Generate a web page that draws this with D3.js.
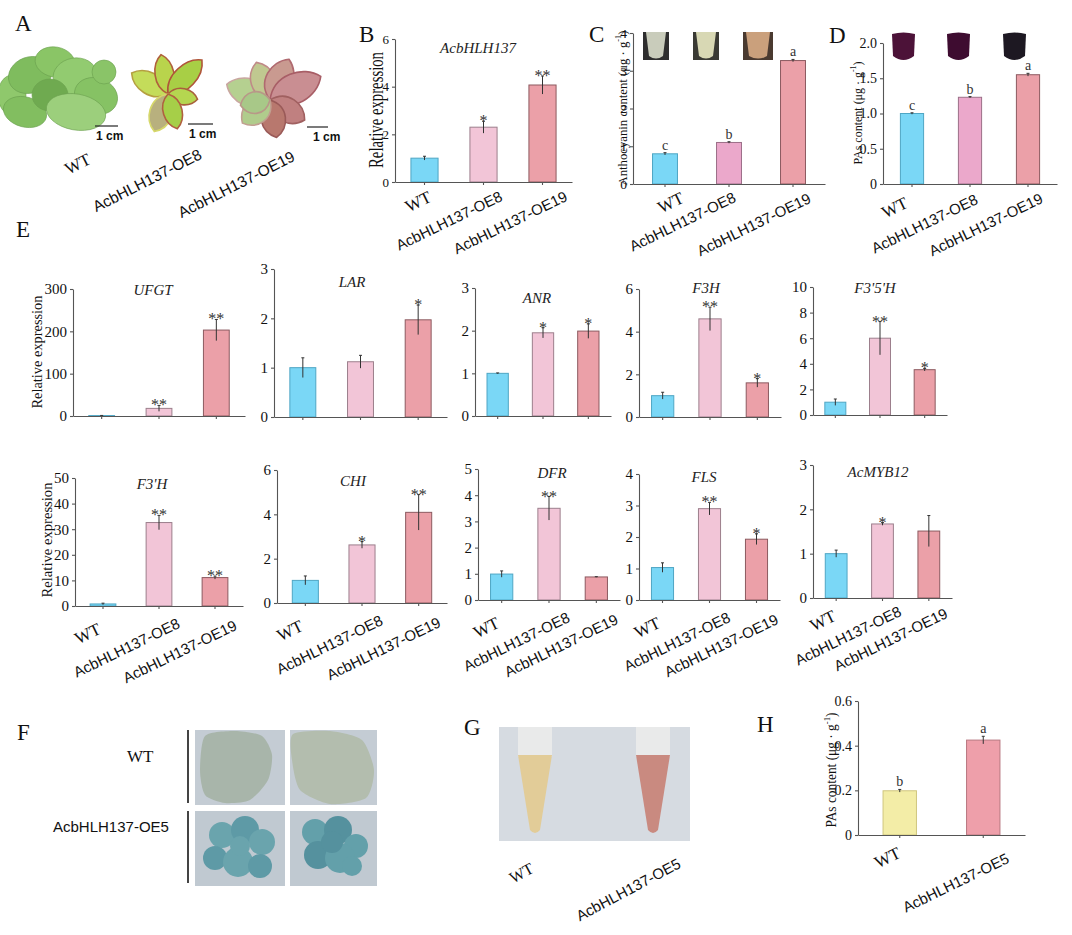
<!DOCTYPE html>
<html>
<head>
<meta charset="utf-8">
<script src="https://cdn.jsdelivr.net/npm/d3@7"></script>
<style>
  body { margin: 0; background: #fff; }
</style>
</head>
<body>
<svg id="fig" width="1072" height="935"></svg>
<script>
// ---------- data ----------
var groups3 = ["WT", "AcbHLH137-OE8", "AcbHLH137-OE19"];
var groups2 = ["WT", "AcbHLH137-OE5"];

// B  AcbHLH137 expression
var bhlh137 = [1.0, 2.3, 4.07], bhlh137Err = [0.08, 0.25, 0.38], bhlh137Sig = ["", "*", "**"], bhlh137Ticks = [0, 2, 4, 6];
// C  anthocyanin content
var antho = [0.8, 1.1, 3.27], anthoErr = [0.03, 0.02, 0.03], anthoSig = ["c", "b", "a"], anthoTicks = [0, 1, 2, 3, 4];
// D  PAs content
var pas = [1.0, 1.23, 1.55], pasErr = [0.01, 0.01, 0.02], pasSig = ["c", "b", "a"], pasTicks = [0, 0.5, 1.0, 1.5, 2.0];
// E  gene expression
var ufgt = [1.0, 18, 203], ufgtErr = [0.3, 7, 25], ufgtSig = ["", "**", "**"], ufgtTicks = [0, 100, 200, 300];
var lar = [1.0, 1.12, 1.97], larErr = [0.2, 0.13, 0.3], larSig = ["", "", "*"], larTicks = [0, 1, 2, 3];
var anr = [1.0, 1.95, 1.99], anrErr = [0.01, 0.12, 0.17], anrSig = ["", "*", "*"], anrTicks = [0, 1, 2, 3];
var f3h = [1.0, 4.6, 1.6], f3hErr = [0.16, 0.55, 0.2], f3hSig = ["", "**", "*"], f3hTicks = [0, 2, 4, 6];
var f35h = [1.0, 6.0, 3.54], f35hErr = [0.25, 1.3, 0.1], f35hSig = ["", "**", "*"], f35hTicks = [0, 2, 4, 6, 8, 10];
var f3ph = [0.8, 32.6, 11.1], f3phErr = [0.3, 2.8, 0.6], f3phSig = ["", "**", "**"], f3phTicks = [0, 10, 20, 30, 40, 50];
var chi = [1.02, 2.62, 4.09], chiErr = [0.2, 0.15, 0.8], chiSig = ["", "*", "**"], chiTicks = [0, 2, 4, 6];
var dfr = [0.99, 3.5, 0.88], dfrErr = [0.12, 0.45, 0.01], dfrSig = ["", "**", ""], dfrTicks = [0, 1, 2, 3, 4, 5];
var fls = [1.03, 2.9, 1.93], flsErr = [0.15, 0.2, 0.17], flsSig = ["", "**", "*"], flsTicks = [0, 1, 2, 3, 4];
var myb12 = [1.0, 1.67, 1.51], myb12Err = [0.08, 0.03, 0.35], myb12Sig = ["", "*", ""], myb12Ticks = [0, 1, 2, 3];
// H  PAs content in callus
var pasCallus = [0.198, 0.425], pasCallusErr = [0.006, 0.017], pasCallusSig = ["b", "a"], pasCallusTicks = [0, 0.2, 0.4, 0.6];

// ---------- styles ----------
var SERIF = "'Liberation Serif','Times New Roman',serif";
var SANS = "'Liberation Sans',Arial,sans-serif";
var fillE = ["#7ad7f6", "#f2c5d7", "#eba0a8"], edgeE = ["#4fa6c4", "#9c7f8c", "#8c5a60"];
var fillCD = ["#7ad7f6", "#eba8cb", "#eba0a8"], edgeCD = ["#4fa6c4", "#9c6f88", "#8c5a60"];
var fillH = ["#f3eda7", "#ee9faa"], edgeH = ["#cfc67e", "#b87880"];
var fmt1 = function(d) { return d === 0 ? "0" : d3.format(".1f")(d); };
var labStd = [[-1, 27], [22, 21], [23, 23]];   // label anchor offsets, bottom row

var svg = d3.select("#fig");

function yLabel(kind, x, y, len, size) {
  var t = svg.append("text")
    .attr("transform", "translate(" + x + "," + y + ") rotate(-90)")
    .attr("text-anchor", "middle").attr("dy", "0.35em")
    .style("font-family", SERIF).style("font-size", size + "px").attr("fill", "#111");
  if (kind == "rel") {
    t.text("Relative expression");
  } else {
    t.append("tspan").text(kind == "antho" ? "Anthocyanin  content (\u03bcg \u00b7 g" : "PAs content (\u03bcg \u00b7 g");
    t.append("tspan").attr("dy", -size * 0.4).style("font-size", (size * 0.65) + "px").text("-1");
    t.append("tspan").attr("dy", size * 0.4).text(")");
  }
  t.attr("textLength", len).attr("lengthAdjust", "spacingAndGlyphs");
}

function barChart(c) {
  var g = svg.append("g");
  var x = d3.scaleBand().domain(c.cats).range([c.x0, c.x1]).paddingInner(c.pad).paddingOuter(c.pad / 2);
  var y = d3.scaleLinear().domain([0, c.ticks[c.ticks.length - 1]]).range([c.y0, c.y1]);
  var cx = function(i) { return x(c.cats[i]) + x.bandwidth() / 2; };

  // bars
  g.selectAll("rect.bar").data(c.vals).enter().append("rect")
    .attr("class", "bar")
    .attr("x", function(d, i) { return x(c.cats[i]); })
    .attr("y", function(d) { return y(d); })
    .attr("width", x.bandwidth())
    .attr("height", function(d) { return y(0) - y(d); })
    .attr("fill", function(d, i) { return c.fill[i]; })
    .attr("stroke", function(d, i) { return c.edge[i]; })
    .attr("stroke-width", 1);

  // error bars
  var eb = g.selectAll("g.err").data(c.vals).enter().append("g").attr("class", "err")
    .attr("stroke", "#333").attr("stroke-width", 1);
  eb.append("line")
    .attr("x1", function(d, i) { return cx(i); }).attr("x2", function(d, i) { return cx(i); })
    .attr("y1", function(d, i) { return y(Math.max(0, d - c.err[i])); })
    .attr("y2", function(d, i) { return y(d + c.err[i]); });
  eb.append("line")
    .attr("x1", function(d, i) { return cx(i) - 1.5; }).attr("x2", function(d, i) { return cx(i) + 1.5; })
    .attr("y1", function(d, i) { return y(d + c.err[i]); })
    .attr("y2", function(d, i) { return y(d + c.err[i]); });

  // significance
  g.selectAll("text.sig").data(c.marks).enter().append("text")
    .attr("class", "sig")
    .attr("x", function(d, i) { return cx(i); })
    .attr("y", function(d, i) {
      var top = y(c.vals[i] + c.err[i]);
      return d.indexOf("*") >= 0 ? top + 5 : top - 3;
    })
    .attr("text-anchor", "middle")
    .style("font-family", SERIF)
    .style("font-size", function(d) { return d.indexOf("*") >= 0 ? "16px" : "14px"; })
    .attr("fill", "#333")
    .text(function(d) { return d; });

  // axes
  var ya = g.append("g").attr("transform", "translate(" + c.x0 + ",0)")
    .call(d3.axisLeft(y).tickValues(c.ticks).tickSizeInner(3).tickSizeOuter(0).tickPadding(3)
      .tickFormat(c.fmt || d3.format("d")));
  g.append("g").attr("transform", "translate(0," + c.y0 + ")")
    .call(d3.axisBottom(x).tickSizeInner(3).tickSizeOuter(0).tickFormat(""));
  g.selectAll(".domain, .tick line").attr("stroke", "#555").attr("stroke-width", 1.1);
  ya.selectAll("text").style("font-family", SERIF).style("font-size", c.tickFont + "px").attr("fill", "#111");

  // title
  if (c.title) {
    g.append("text").attr("x", c.tx).attr("y", c.ty).attr("text-anchor", "middle")
      .style("font-family", SERIF).style("font-style", "italic").style("font-size", "15px")
      .attr("fill", "#222").text(c.title);
  }

  // rotated category labels
  if (c.lab) {
    c.cats.forEach(function(name, i) {
      var wt = name == "WT";
      g.append("text")
        .attr("transform", "translate(" + (cx(i) + c.lab[i][0]) + "," + (c.y0 + c.lab[i][1]) + ") rotate(-26)")
        .attr("text-anchor", "end")
        .style("font-family", wt ? SERIF : SANS)
        .style("font-size", wt ? "17px" : "15px")
        .attr("fill", "#111")
        .text(name);
    });
  }
}

// ---------- charts ----------
var charts = [
  { cats: groups3, vals: bhlh137, err: bhlh137Err, marks: bhlh137Sig, ticks: bhlh137Ticks, fill: fillE, edge: edgeE,
    x0: 395, x1: 572, y0: 182, y1: 39, pad: 0.54, tickFont: 13, title: "AcbHLH137", tx: 478, ty: 53,
    lab: [[8, 19], [20, 18], [26, 18]] },
  { cats: groups3, vals: antho, err: anthoErr, marks: anthoSig, ticks: anthoTicks, fill: fillCD, edge: edgeCD,
    x0: 633, x1: 825, y0: 184, y1: 33, pad: 0.61, tickFont: 13.5,
    lab: [[20, 18], [8, 17], [19, 18]] },
  { cats: groups3, vals: pas, err: pasErr, marks: pasSig, ticks: pasTicks, fill: fillCD, edge: edgeCD, fmt: fmt1,
    x0: 883, x1: 1057, y0: 184, y1: 43, pad: 0.6, tickFont: 14,
    lab: [[-3, 23], [9, 19], [16, 18]] },

  { cats: groups3, vals: ufgt, err: ufgtErr, marks: ufgtSig, ticks: ufgtTicks, fill: fillE, edge: edgeE,
    x0: 73, x1: 245, y0: 416, y1: 289, pad: 0.55, tickFont: 15, title: "UFGT", tx: 153, ty: 295 },
  { cats: groups3, vals: lar, err: larErr, marks: larSig, ticks: larTicks, fill: fillE, edge: edgeE,
    x0: 274, x1: 447, y0: 417, y1: 269, pad: 0.55, tickFont: 15, title: "LAR", tx: 352, ty: 287 },
  { cats: groups3, vals: anr, err: anrErr, marks: anrSig, ticks: anrTicks, fill: fillE, edge: edgeE,
    x0: 475, x1: 611, y0: 416, y1: 288, pad: 0.53, tickFont: 15, title: "ANR", tx: 537, ty: 303 },
  { cats: groups3, vals: f3h, err: f3hErr, marks: f3hSig, ticks: f3hTicks, fill: fillE, edge: edgeE,
    x0: 639, x1: 781, y0: 417, y1: 289, pad: 0.53, tickFont: 15, title: "F3H", tx: 706, ty: 293 },
  { cats: groups3, vals: f35h, err: f35hErr, marks: f35hSig, ticks: f35hTicks, fill: fillE, edge: edgeE,
    x0: 813, x1: 947, y0: 415, y1: 287, pad: 0.53, tickFont: 15, title: "F3'5'H", tx: 875, ty: 293 },

  { cats: groups3, vals: f3ph, err: f3phErr, marks: f3phSig, ticks: f3phTicks, fill: fillE, edge: edgeE,
    x0: 75, x1: 243, y0: 606, y1: 478, pad: 0.54, tickFont: 15, title: "F3'H", tx: 152, ty: 489, lab: labStd },
  { cats: groups3, vals: chi, err: chiErr, marks: chiSig, ticks: chiTicks, fill: fillE, edge: edgeE,
    x0: 277, x1: 447, y0: 603, y1: 470, pad: 0.54, tickFont: 15, title: "CHI", tx: 353, ty: 486, lab: labStd },
  { cats: groups3, vals: dfr, err: dfrErr, marks: dfrSig, ticks: dfrTicks, fill: fillE, edge: edgeE,
    x0: 478, x1: 620, y0: 600, y1: 469, pad: 0.53, tickFont: 15, title: "DFR", tx: 552, ty: 478, lab: labStd },
  { cats: groups3, vals: fls, err: flsErr, marks: flsSig, ticks: flsTicks, fill: fillE, edge: edgeE,
    x0: 639, x1: 780, y0: 600, y1: 474, pad: 0.53, tickFont: 15, title: "FLS", tx: 704, ty: 482, lab: labStd },
  { cats: groups3, vals: myb12, err: myb12Err, marks: myb12Sig, ticks: myb12Ticks, fill: fillE, edge: edgeE,
    x0: 813, x1: 952, y0: 598, y1: 465, pad: 0.53, tickFont: 15, title: "AcMYB12", tx: 878, ty: 477,
    lab: [[1, 22], [20, 17], [20, 19]] },

  { cats: groups2, vals: pasCallus, err: pasCallusErr, marks: pasCallusSig, ticks: pasCallusTicks, fill: fillH, edge: edgeH,
    fmt: fmt1, x0: 858, x1: 1025, y0: 835, y1: 701, pad: 0.6, tickFont: 14,
    lab: [[2, 22], [27, 27]] }
];
charts.forEach(barChart);

yLabel("rel", 376, 110, 116, 20);
yLabel("antho", 622, 108, 155, 13.5);
yLabel("pas", 857, 113, 103, 13);
yLabel("rel", 37, 352, 113, 14.5);
yLabel("rel", 47, 540, 115, 15);
yLabel("pas", 831, 770, 115, 14);

// ---------- panel letters ----------
[["A", 15, 31], ["B", 359, 42], ["C", 589, 42], ["D", 829, 43], ["E", 16, 237],
 ["F", 17, 740], ["G", 464, 735], ["H", 757, 732]].forEach(function(p) {
  svg.append("text").attr("x", p[1]).attr("y", p[2])
    .style("font-family", SERIF).style("font-size", "23px").attr("fill", "#111").text(p[0]);
});

// ---------- photo sketches ----------
function leaf(g, cx, cy, len, w, ang, fill, edge) {
  g.append("path")
    .attr("d", "M0,0 C" + w + "," + (-len * 0.25) + " " + (w * 0.8) + "," + (-len * 0.8) + " 0," + (-len) +
      " C" + (-w * 0.8) + "," + (-len * 0.8) + " " + (-w) + "," + (-len * 0.25) + " 0,0Z")
    .attr("transform", "translate(" + cx + "," + cy + ") rotate(" + ang + ")")
    .attr("fill", fill).attr("stroke", edge).attr("stroke-width", 1.6);
}

// A: seedlings
var pa = svg.append("g");
[[12, 95, 14, 20, 0, "#8fc86c"], [30, 75, 22, 18, -20, "#7fbc5e"], [55, 62, 20, 15, 10, "#8ac566"],
 [25, 112, 22, 15, 15, "#82be60"], [75, 76, 22, 18, -10, "#92cb70"], [50, 95, 18, 16, 0, "#6faa50"],
 [96, 96, 22, 18, 20, "#86c264"], [76, 112, 30, 18, 10, "#9ccf7c"], [104, 72, 12, 12, 0, "#8ac468"]]
  .forEach(function(e) {
    pa.append("ellipse").attr("cx", e[0]).attr("cy", e[1]).attr("rx", e[2]).attr("ry", e[3])
      .attr("transform", "rotate(" + e[4] + "," + e[0] + "," + e[1] + ")").attr("fill", e[5])
      .attr("stroke", "#6a9f4e").attr("stroke-width", 0.6);
  });
[[-60, 42, 16, "#c4dc5a", "#b5a040"], [-10, 40, 14, "#b9d44c", "#b0603c"], [45, 48, 16, "#a8cf45", "#b0553a"],
 [100, 30, 12, "#b5d650", "#a8603c"], [200, 40, 17, "#b8b07e", "#d6d86a"], [165, 36, 14, "#a6cf48", "#b06040"]]
  .forEach(function(l) { leaf(pa, 168, 94, l[1], l[2], l[0], l[3], l[4]); });
[[-70, 46, 20, "#b5d090", "#c9a6a0"], [-20, 40, 18, "#c0c890", "#c08a88"], [25, 45, 20, "#c99a90", "#b06a70"],
 [65, 56, 22, "#c98e92", "#a85e66"], [120, 40, 18, "#c08080", "#a06060"], [170, 38, 18, "#b8786e", "#9a5a58"],
 [-130, 36, 18, "#b0cc8c", "#c0a090"], [-100, 30, 16, "#a8c888", "#b89888"]]
  .forEach(function(l) { leaf(pa, 270, 100, l[1], l[2], l[0], l[3], l[4]); });
[[95, 118, 126, 96], [188, 213, 124, 189], [307, 328, 127, 313]].forEach(function(s) {
  pa.append("line").attr("x1", s[0]).attr("x2", s[1]).attr("y1", s[2]).attr("y2", s[2])
    .attr("stroke", "#222").attr("stroke-width", 1.2);
  pa.append("text").attr("x", s[3]).attr("y", s[2] + 14).style("font-family", SANS)
    .style("font-weight", "bold").style("font-size", "12px").attr("fill", "#111").text("1 cm");
});
[["WT", 92, 163, SERIF, 17], ["AcbHLH137-OE8", 203, 158, SANS, 15.5], ["AcbHLH137-OE19", 296, 160, SANS, 15.5]]
  .forEach(function(t) {
    svg.append("text").attr("transform", "translate(" + t[1] + "," + t[2] + ") rotate(-27)")
      .attr("text-anchor", "end").style("font-family", t[3]).style("font-size", t[4] + "px")
      .attr("fill", "#111").text(t[0]);
  });

// C and D: tube insets
[[643, "#c9ccbb", "#2e2e2e"], [693, "#d8d8b4", "#3a3a34"], [743, "#caa07c", "#4a3a30"]].forEach(function(t) {
  var w = t[0] == 743 ? 30 : 26;
  svg.append("rect").attr("x", t[0]).attr("y", 32).attr("width", w).attr("height", 28).attr("fill", t[2]);
  svg.append("path").attr("d", "M" + (t[0] + 3) + ",32 L" + (t[0] + w - 3) + ",32 L" + (t[0] + w - 6) + ",56 Q" +
    (t[0] + w / 2) + ",61 " + (t[0] + 6) + ",56Z").attr("fill", t[1]);
});
[[892, "#4c1238"], [947, "#3e0c30"], [1003, "#1d1822"]].forEach(function(t) {
  svg.append("path").attr("d", "M" + t[0] + ",34 Q" + (t[0] + 11.5) + ",31 " + (t[0] + 23) + ",34 L" + (t[0] + 22) +
    ",56 Q" + (t[0] + 11.5) + ",64 " + (t[0] + 1) + ",56Z").attr("fill", t[1]);
});

// F: callus photos
var pf = svg.append("g");
var blob = d3.line().curve(d3.curveCardinalClosed.tension(0.3));
[[195, 730, 90, 75], [290, 730, 87, 75], [195, 811, 90, 75], [290, 811, 87, 75]].forEach(function(r) {
  pf.append("rect").attr("x", r[0]).attr("y", r[1]).attr("width", r[2]).attr("height", r[3])
    .attr("fill", r[1] < 800 ? "#c4ccd4" : "#c0c9d1");
});
pf.append("path").attr("fill", "#a8b5aa").attr("d", blob([[205, 736], [235, 731], [262, 736], [272, 755], [268, 780],
  [250, 800], [225, 803], [205, 795], [200, 770]]));
pf.append("path").attr("fill", "#b3bdae").attr("d", blob([[293, 734], [330, 731], [362, 740], [374, 770], [366, 798],
  [330, 804], [300, 790], [292, 760]]));
[[222, 835, 13], [245, 830, 14], [262, 842, 13], [215, 858, 12], [238, 862, 15], [260, 866, 12], [240, 846, 10]]
  .forEach(function(c, i) {
    pf.append("circle").attr("cx", c[0]).attr("cy", c[1]).attr("r", c[2]).attr("fill", i % 2 ? "#5e9aa6" : "#6aa4ad");
  });
[[315, 832, 13], [338, 830, 14], [356, 846, 12], [318, 855, 14], [340, 858, 15], [332, 842, 11], [352, 866, 10]]
  .forEach(function(c, i) {
    pf.append("circle").attr("cx", c[0]).attr("cy", c[1]).attr("r", c[2]).attr("fill", i % 2 ? "#55919e" : "#63a0aa");
  });
pf.append("line").attr("x1", 188).attr("x2", 188).attr("y1", 730).attr("y2", 803).attr("stroke", "#444").attr("stroke-width", 2);
pf.append("line").attr("x1", 188).attr("x2", 188).attr("y1", 811).attr("y2", 883).attr("stroke", "#444").attr("stroke-width", 2);
pf.append("text").attr("x", 127).attr("y", 762).style("font-family", SERIF).style("font-size", "17px").attr("fill", "#111").text("WT");
pf.append("text").attr("x", 53).attr("y", 832).style("font-family", SANS).style("font-size", "15px").attr("fill", "#111").text("AcbHLH137-OE5");

// G: tube photo
var pg = svg.append("g");
pg.append("rect").attr("x", 499).attr("y", 727).attr("width", 191).attr("height", 114).attr("fill", "#d6dbe1");
[[535, "#e2cc98"], [653, "#c98a80"]].forEach(function(t) {
  pg.append("rect").attr("x", t[0] - 17).attr("y", 727).attr("width", 34).attr("height", 30).attr("fill", "#e9eaea");
  pg.append("path").attr("d", "M" + (t[0] - 17) + ",755 L" + (t[0] + 17) + ",755 L" + (t[0] + 5) + ",830 Q" + t[0] +
    ",836 " + (t[0] - 5) + ",830Z").attr("fill", t[1]);
});
pg.append("text").attr("transform", "translate(535,872) rotate(-28)").attr("text-anchor", "end")
  .style("font-family", SERIF).style("font-size", "16px").attr("fill", "#111").text("WT");
pg.append("text").attr("transform", "translate(682,867) rotate(-28)").attr("text-anchor", "end")
  .style("font-family", SANS).style("font-size", "15px").attr("fill", "#111").text("AcbHLH137-OE5");
</script>
</body>
</html>
